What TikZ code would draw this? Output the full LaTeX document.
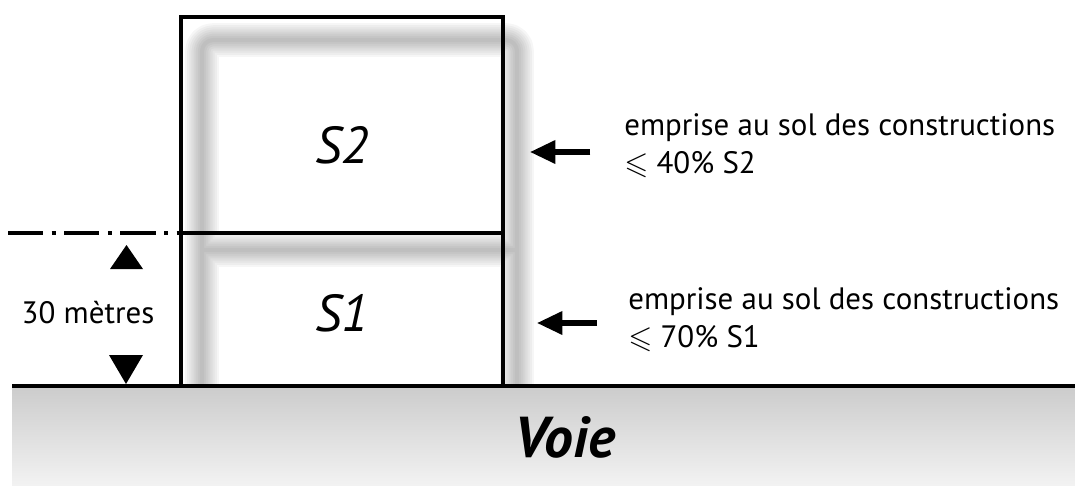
\documentclass[tikz,border=0pt]{standalone}
\usepackage{amssymb}
\usepackage{fontspec}
\setmainfont{PT Sans}
\usetikzlibrary{arrows.meta}

\begin{document}
\begin{tikzpicture}[
        x=0.025cm, y=-0.025cm,
        wall/.style={line width=2.2pt, line cap=rect},
        ground/.style={line width=3.2pt},
        datum/.style={line width=2.8pt, dash pattern=on 25pt off 6pt on 3pt off 6pt},
        haze/.style={draw=black, line join=round, rounded corners=8pt},
        pointer/.style={-{Triangle[length=18pt, width=16pt]}, line width=3.6pt},
        note/.style={anchor=west, align=left, font=\fontsize{22}{27}\selectfont, inner sep=0pt},
        zone/.style={font=\fontsize{37}{40}\selectfont\itshape},
        marker/.style={fill=black}
    ]
        \useasboundingbox (0,0) rectangle (1075,487);
        % road
        \shade[top color=black!20, bottom color=black!5] (12,387) rectangle (1075,485);
        \node[font=\fontsize{41}{44}\selectfont\bfseries\itshape] (voie) at (565,437) {Voie};
        % blurred shadow of the building
        \foreach \w in {24,21,...,3} {
            \draw[haze, line width=\w pt, opacity=0.035]
                (202,386) -- (202,40) -- (517,40) -- (517,386)
                (202,250) -- (517,250);
        }
        % building
        \coordinate (nw) at (181,17);
        \coordinate (se) at (503,386);
        \coordinate (mw) at (181,233);
        \coordinate (me) at (503,233);
        \draw[wall] (nw) rectangle (se);
        \draw[wall] (mw) -- (me);
        \draw[ground] (12,386) -- (1075,386);
        \node[zone] (s2) at (342,145) {S2};
        \node[zone] (s1) at (342,313) {S1};
        % 30 m limit
        \coordinate (limit) at (8,233);
        \draw[datum] (limit) -- (mw);
        \node[font=\fontsize{22}{24}\selectfont] (haut) at (88,313) {30 mètres};
        \fill[marker] (110,269) -- (126.5,245) -- (143,269) -- cycle;
        \fill[marker] (109,355) -- (126,384) -- (143,355) -- cycle;
        % rules
        \node[note] (r2) at (624,146) {emprise au sol des constructions\\$\leqslant$ 40\% S2};
        \node[note] (r1) at (628,320) {emprise au sol des constructions\\$\leqslant$ 70\% S1};
        \coordinate (a2) at (530,152);
        \coordinate (a1) at (537,323);
        \draw[pointer] ([xshift=-24pt]r2.west |- a2) -- (a2);
        \draw[pointer] ([xshift=-22pt]r1.west |- a1) -- (a1);
    \end{tikzpicture}
\end{document}
